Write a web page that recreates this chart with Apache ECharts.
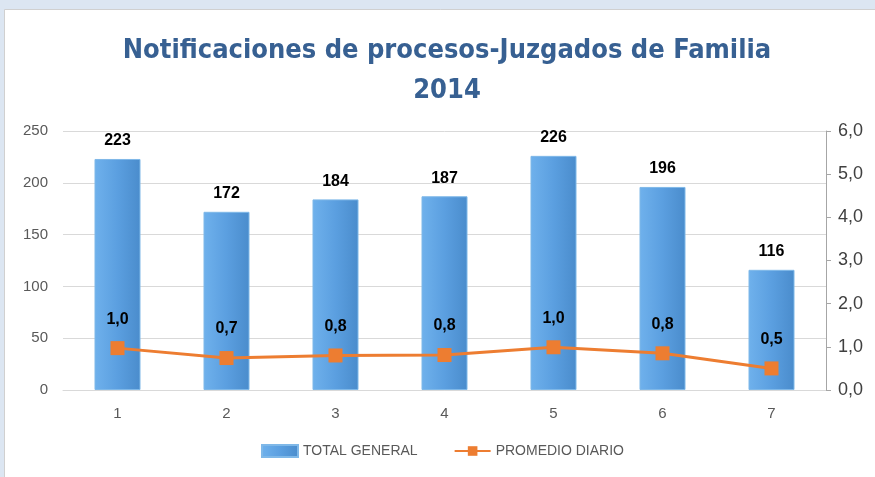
<!DOCTYPE html>
<html><head><meta charset="utf-8">
<script src="https://cdn.jsdelivr.net/npm/echarts@6/dist/echarts.min.js"></script>
<style>html,body{margin:0;padding:0;background:#dce6f2}#c{width:875px;height:477px}</style>
</head><body><div id="c"></div>
<script>
const categories = ['1','2','3','4','5','6','7'];
const totalGeneral = [223, 172, 184, 187, 226, 196, 116];
const promedioDiario = [0.97, 0.74, 0.80, 0.81, 0.99, 0.85, 0.50];
const leftTicks = [0, 50, 100, 150, 200, 250];
const rightTicks = [0, 1, 2, 3, 4, 5, 6];

const chart = echarts.init(document.getElementById('c'));
const fmt = v => Number(v).toFixed(1).replace('.', ',');
chart.setOption({
  backgroundColor: '#dce6f2',
  graphic: [{
    type: 'rect', z: -10, silent: true,
    shape: { x: 4.5, y: 9.5, width: 880, height: 480 },
    style: { fill: '#ffffff', stroke: '#d0d0d0', lineWidth: 1 }
  }, {
    type: 'text', silent: true,
    x: 447, y: 31,
    style: {
      text: 'Notificaciones de procesos-Juzgados de Familia\n2014',
      align: 'center', verticalAlign: 'top',
      font: 'bold 27px "DejaVu Sans Condensed"', fill: '#376092', lineHeight: 40
    }
  }],
  legend: {
    bottom: 14, left: 256, itemGap: 36, itemWidth: 36, itemHeight: 12,
    textStyle: { color: '#595959', fontSize: 14, fontFamily: 'Liberation Sans' },
    data: [
      { name: 'TOTAL GENERAL', icon: 'rect' },
      { name: 'PROMEDIO DIARIO' }
    ]
  },
  grid: { left: 63, right: 49, top: 131, bottom: 87 },
  xAxis: {
    type: 'category', data: categories,
    axisLine: { lineStyle: { color: '#d9d9d9' } },
    axisTick: { show: false },
    axisLabel: { color: '#595959', fontSize: 15, margin: 16 }
  },
  yAxis: [{
    type: 'value', min: leftTicks[0], max: leftTicks[leftTicks.length - 1], interval: 50,
    axisLine: { show: false }, axisTick: { show: false },
    axisLabel: { color: '#595959', fontSize: 15, margin: 15 },
    splitLine: { lineStyle: { color: '#d9d9d9' } }
  }, {
    type: 'value', min: rightTicks[0], max: rightTicks[rightTicks.length - 1], interval: 1,
    position: 'right',
    axisLine: { show: true, lineStyle: { color: '#a6a6a6' } },
    axisTick: { show: true, length: 5, lineStyle: { color: '#a6a6a6' } },
    axisLabel: { color: '#404040', fontSize: 18, formatter: v => fmt(v), margin: 12 },
    splitLine: { show: false }
  }],
  series: [{
    name: 'TOTAL GENERAL', type: 'bar', data: totalGeneral, barWidth: 46,
    itemStyle: {
      color: new echarts.graphic.LinearGradient(0, 0, 1, 0, [
        { offset: 0, color: '#6fb1ec' },
        { offset: 0.5, color: '#5b9fe0' },
        { offset: 1, color: '#4a8ccc' }
      ]),
      borderColor: '#7fb8e8', borderWidth: 1
    },
    label: { show: true, position: 'top', distance: 10, color: '#000', fontWeight: 'bold', fontSize: 16, fontFamily: 'Liberation Sans' }
  }, {
    name: 'PROMEDIO DIARIO', type: 'line', yAxisIndex: 1, data: promedioDiario,
    symbol: 'rect', symbolSize: 14,
    lineStyle: { color: '#ed7d31', width: 3 },
    itemStyle: { color: '#ed7d31' },
    label: { show: true, position: 'top', distance: 14, color: '#000', fontWeight: 'bold', fontSize: 16, fontFamily: 'Liberation Sans', formatter: p => fmt(p.value) }
  }]
});
</script></body></html>
